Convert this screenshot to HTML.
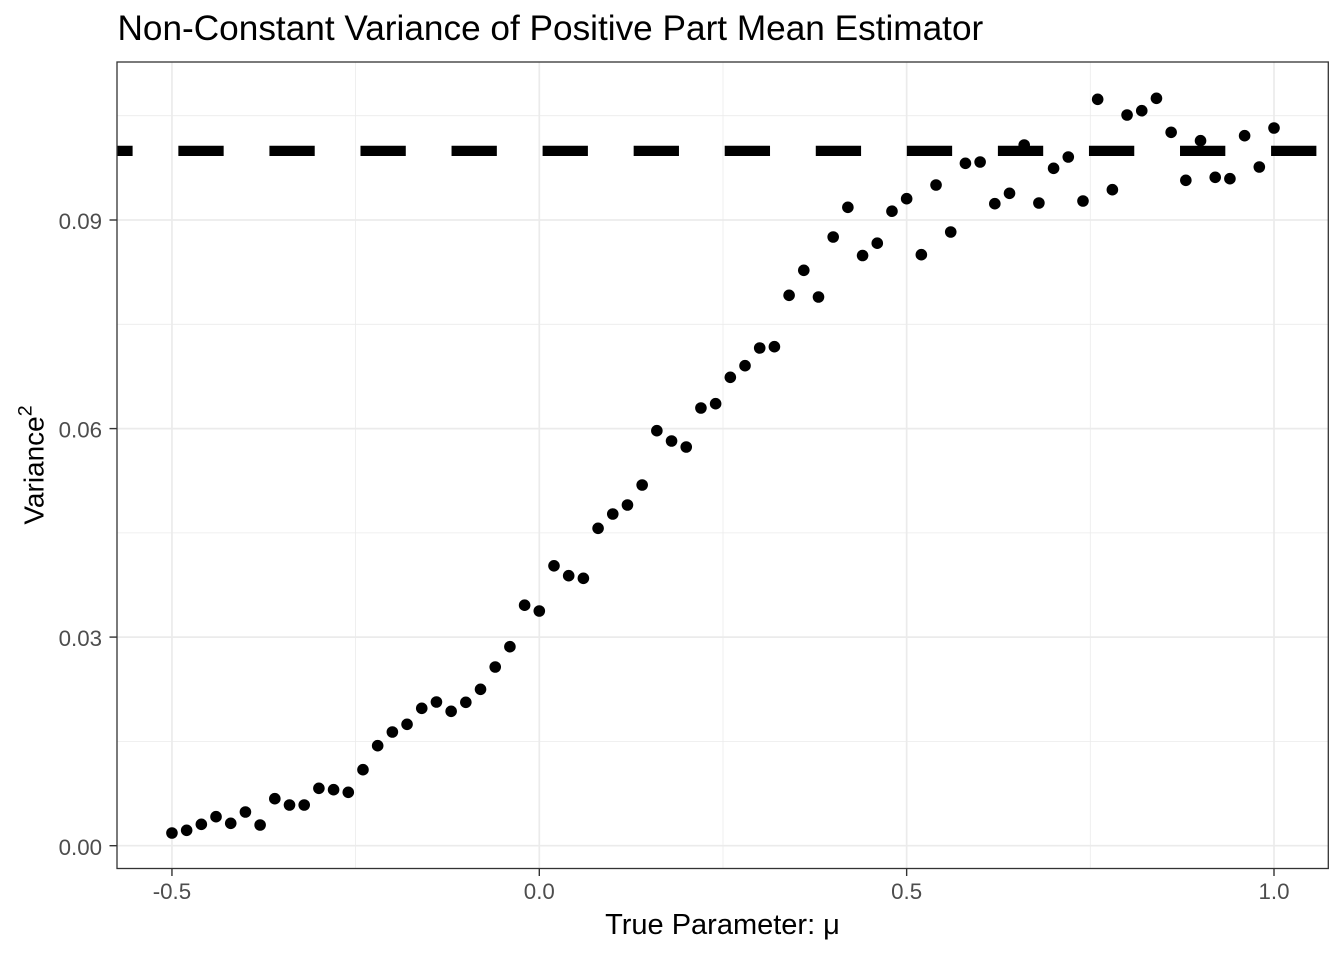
<!DOCTYPE html>
<html>
<head>
<meta charset="utf-8">
<style>
  html, body { margin: 0; padding: 0; background: #ffffff; }
  svg { display: block; }
  text { font-family: "Liberation Sans", Arial, sans-serif; }
</style>
</head>
<body>
<svg width="1344" height="960" viewBox="0 0 1344 960" xmlns="http://www.w3.org/2000/svg">
  <rect x="0" y="0" width="1344" height="960" fill="#ffffff"/>

  <g stroke="#EBEBEB" stroke-width="0.8" fill="none">
    <line x1="117" x2="1328.3" y1="741.4" y2="741.4"/>
    <line x1="117" x2="1328.3" y1="532.9" y2="532.9"/>
    <line x1="117" x2="1328.3" y1="324.3" y2="324.3"/>
    <line x1="117" x2="1328.3" y1="115.7" y2="115.7"/>
    <line y1="62" y2="868.5" x1="355.6" x2="355.6"/>
    <line y1="62" y2="868.5" x1="723" x2="723"/>
    <line y1="62" y2="868.5" x1="1090.3" x2="1090.3"/>
  </g>
  <g stroke="#EBEBEB" stroke-width="1.7" fill="none">
    <line x1="117" x2="1328.3" y1="845.7" y2="845.7"/>
    <line x1="117" x2="1328.3" y1="637.1" y2="637.1"/>
    <line x1="117" x2="1328.3" y1="428.6" y2="428.6"/>
    <line x1="117" x2="1328.3" y1="220" y2="220"/>
    <line y1="62" y2="868.5" x1="171.95" x2="171.95"/>
    <line y1="62" y2="868.5" x1="539.3" x2="539.3"/>
    <line y1="62" y2="868.5" x1="906.65" x2="906.65"/>
    <line y1="62" y2="868.5" x1="1274" x2="1274"/>
  </g>

  <line x1="117" x2="1328.3" y1="150.9" y2="150.9" stroke="#000" stroke-width="10.3" stroke-dasharray="45.3 45.76" stroke-dashoffset="29.7"/>

  <g fill="#000">
    <circle cx="171.95" cy="833" r="5.8"/>
    <circle cx="186.64" cy="830.3" r="5.8"/>
    <circle cx="201.34" cy="824.3" r="5.8"/>
    <circle cx="216.03" cy="816.7" r="5.8"/>
    <circle cx="230.73" cy="823.3" r="5.8"/>
    <circle cx="245.42" cy="812" r="5.8"/>
    <circle cx="260.11" cy="825" r="5.8"/>
    <circle cx="274.81" cy="798.7" r="5.8"/>
    <circle cx="289.50" cy="805" r="5.8"/>
    <circle cx="304.20" cy="805" r="5.8"/>
    <circle cx="318.89" cy="788.3" r="5.8"/>
    <circle cx="333.58" cy="789.7" r="5.8"/>
    <circle cx="348.28" cy="792.3" r="5.8"/>
    <circle cx="362.97" cy="769.7" r="5.8"/>
    <circle cx="377.67" cy="745.7" r="5.8"/>
    <circle cx="392.36" cy="732" r="5.8"/>
    <circle cx="407.05" cy="724.3" r="5.8"/>
    <circle cx="421.75" cy="708.3" r="5.8"/>
    <circle cx="436.44" cy="702" r="5.8"/>
    <circle cx="451.14" cy="711.3" r="5.8"/>
    <circle cx="465.83" cy="702.3" r="5.8"/>
    <circle cx="480.52" cy="689.3" r="5.8"/>
    <circle cx="495.22" cy="667" r="5.8"/>
    <circle cx="509.91" cy="646.7" r="5.8"/>
    <circle cx="524.61" cy="605.2" r="5.8"/>
    <circle cx="539.30" cy="611" r="5.8"/>
    <circle cx="553.99" cy="565.8" r="5.8"/>
    <circle cx="568.69" cy="575.7" r="5.8"/>
    <circle cx="583.38" cy="578.3" r="5.8"/>
    <circle cx="598.08" cy="528.3" r="5.8"/>
    <circle cx="612.77" cy="514" r="5.8"/>
    <circle cx="627.46" cy="505" r="5.8"/>
    <circle cx="642.16" cy="485" r="5.8"/>
    <circle cx="656.85" cy="430.7" r="5.8"/>
    <circle cx="671.55" cy="441" r="5.8"/>
    <circle cx="686.24" cy="447" r="5.8"/>
    <circle cx="700.93" cy="408" r="5.8"/>
    <circle cx="715.63" cy="403.7" r="5.8"/>
    <circle cx="730.32" cy="377.3" r="5.8"/>
    <circle cx="745.02" cy="365.7" r="5.8"/>
    <circle cx="759.71" cy="348" r="5.8"/>
    <circle cx="774.40" cy="346.7" r="5.8"/>
    <circle cx="789.10" cy="295.3" r="5.8"/>
    <circle cx="803.79" cy="270.3" r="5.8"/>
    <circle cx="818.49" cy="297" r="5.8"/>
    <circle cx="833.18" cy="237" r="5.8"/>
    <circle cx="847.87" cy="207.3" r="5.8"/>
    <circle cx="862.57" cy="255.5" r="5.8"/>
    <circle cx="877.26" cy="243.2" r="5.8"/>
    <circle cx="891.96" cy="211.2" r="5.8"/>
    <circle cx="906.65" cy="198.7" r="5.8"/>
    <circle cx="921.34" cy="254.7" r="5.8"/>
    <circle cx="936.04" cy="185" r="5.8"/>
    <circle cx="950.73" cy="232" r="5.8"/>
    <circle cx="965.43" cy="163.3" r="5.8"/>
    <circle cx="980.12" cy="162" r="5.8"/>
    <circle cx="994.81" cy="203.7" r="5.8"/>
    <circle cx="1009.51" cy="193.3" r="5.8"/>
    <circle cx="1024.20" cy="145" r="5.8"/>
    <circle cx="1038.90" cy="203" r="5.8"/>
    <circle cx="1053.59" cy="168.3" r="5.8"/>
    <circle cx="1068.28" cy="157" r="5.8"/>
    <circle cx="1082.98" cy="201" r="5.8"/>
    <circle cx="1097.67" cy="99.3" r="5.8"/>
    <circle cx="1112.37" cy="189.7" r="5.8"/>
    <circle cx="1127.06" cy="115" r="5.8"/>
    <circle cx="1141.75" cy="110.7" r="5.8"/>
    <circle cx="1156.45" cy="98.3" r="5.8"/>
    <circle cx="1171.14" cy="132.3" r="5.8"/>
    <circle cx="1185.84" cy="180.3" r="5.8"/>
    <circle cx="1200.53" cy="140.7" r="5.8"/>
    <circle cx="1215.22" cy="177.3" r="5.8"/>
    <circle cx="1229.92" cy="178.7" r="5.8"/>
    <circle cx="1244.61" cy="135.7" r="5.8"/>
    <circle cx="1259.31" cy="167" r="5.8"/>
    <circle cx="1274.00" cy="128" r="5.8"/>
  </g>

  <rect x="117" y="62" width="1211.3" height="806.5" fill="none" stroke="#333333" stroke-width="1.3"/>

  <g stroke="#333333" stroke-width="1.4">
    <line x1="109.5" x2="117" y1="845.7" y2="845.7"/>
    <line x1="109.5" x2="117" y1="637.1" y2="637.1"/>
    <line x1="109.5" x2="117" y1="428.6" y2="428.6"/>
    <line x1="109.5" x2="117" y1="220" y2="220"/>
    <line y1="868.5" y2="876" x1="171.95" x2="171.95"/>
    <line y1="868.5" y2="876" x1="539.3" x2="539.3"/>
    <line y1="868.5" y2="876" x1="906.65" x2="906.65"/>
    <line y1="868.5" y2="876" x1="1274" x2="1274"/>
  </g>

  <g fill="#4D4D4D" font-size="22.3" text-anchor="end">
    <text x="102" y="854.8">0.00</text>
    <text x="102" y="646.2">0.03</text>
    <text x="102" y="437.7">0.06</text>
    <text x="102" y="229.1">0.09</text>
  </g>
  <g fill="#4D4D4D" font-size="22.3" text-anchor="middle">
    <text x="171.95" y="899">-0.5</text>
    <text x="539.3" y="899">0.0</text>
    <text x="906.65" y="899">0.5</text>
    <text x="1274" y="899">1.0</text>
  </g>

  <text x="722.5" y="934" font-size="29" text-anchor="middle" fill="#000">True Parameter: μ</text>
  <text transform="translate(43.5,465) rotate(-90)" font-size="28" text-anchor="middle" fill="#000">Variance<tspan font-size="19.6" dy="-12">2</tspan></text>

  <text x="117.5" y="40" font-size="35.2" fill="#000">Non-Constant Variance of Positive Part Mean Estimator</text>
</svg>
</body>
</html>
